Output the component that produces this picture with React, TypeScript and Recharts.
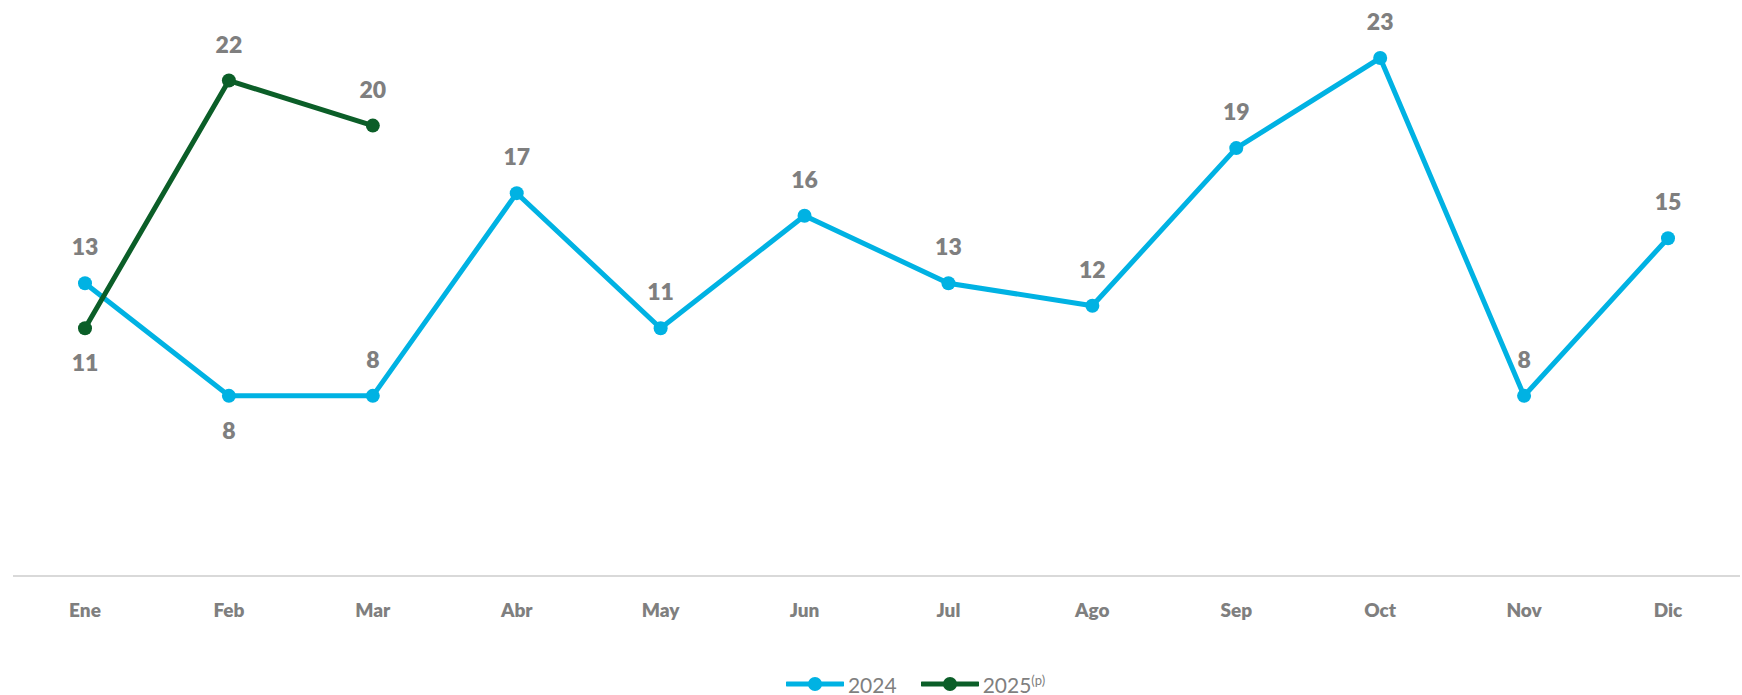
import { LineChart, Line, XAxis, YAxis, Legend, LabelList } from 'recharts';

const months = ['Ene', 'Feb', 'Mar', 'Abr', 'May', 'Jun', 'Jul', 'Ago', 'Sep', 'Oct', 'Nov', 'Dic'];
const values2024 = [13, 8, 8, 17, 11, 16, 13, 12, 19, 23, 8, 15];
const values2025: (number | null)[] = [11, 22, 20, null, null, null, null, null, null, null, null, null];
// which labels sit under the point instead of above it
const below2024 = [false, true, false, false, false, false, false, false, false, false, false, false];
const below2025 = [true, false, false];

const BLUE = '#00B2E3';
const GREEN = '#0B5E28';
const GRAY = '#7F7F7F';
const FONT = 'Lato, "Open Sans", sans-serif';

const data = months.map((m, i) => ({ month: m, y2024: values2024[i], y2025: values2025[i] }));

const makeLabel = (below: boolean[]) => (props: any) => {
  const { x, y, value, index } = props;
  if (value == null) return null;
  const dy = below[index] ? 43 : -28;
  return (
    <text x={x} y={y + dy} textAnchor="middle" fill={GRAY} fontFamily={FONT} fontWeight={800} fontSize={23}>
      {value}
    </text>
  );
};

function LegendIcon({ color }: { color: string }) {
  return (
    <svg width={58} height={16} style={{ marginRight: 4 }}>
      <line x1={1} y1={8} x2={57} y2={8} stroke={color} strokeWidth={5} strokeLinecap="round" />
      <circle cx={29} cy={8} r={7} fill={color} />
    </svg>
  );
}

function ChartLegend() {
  return (
    <div
      style={{
        display: 'flex',
        justifyContent: 'center',
        alignItems: 'center',
        paddingLeft: 78,
        height: 22,
        fontFamily: FONT,
        fontSize: 21,
        color: GRAY,
      }}
    >
      <div style={{ display: 'flex', alignItems: 'center', marginRight: 24 }}>
        <LegendIcon color={BLUE} />
        <span>2024</span>
      </div>
      <div style={{ display: 'flex', alignItems: 'center' }}>
        <LegendIcon color={GREEN} />
        <span>
          2025<sup style={{ fontSize: 13 }}>(p)</sup>
        </span>
      </div>
    </div>
  );
}

export default function App() {
  return (
    <div style={{ position: 'absolute', left: 0, top: 0, background: '#fff' }}>
      <LineChart width={1742} height={695} data={data} margin={{ top: 13, right: 2, left: 13, bottom: 0 }}>
        <XAxis
          dataKey="month"
          padding={{ left: 72, right: 72 }}
          axisLine={{ stroke: '#D9D9D9', strokeWidth: 2 }}
          tickLine={false}
          tickMargin={22}
          height={97}
          tick={{ fill: GRAY, fontFamily: FONT, fontWeight: 800, fontSize: 19 }}
        />
        <YAxis hide domain={[0, 25]} />
        <Legend verticalAlign="bottom" height={22} content={() => <ChartLegend />} />
        <Line
          dataKey="y2024"
          stroke={BLUE}
          strokeWidth={5}
          dot={{ r: 7, fill: BLUE, stroke: 'none' }}
          activeDot={false}
          isAnimationActive={false}
        >
          <LabelList dataKey="y2024" content={makeLabel(below2024)} />
        </Line>
        <Line
          dataKey="y2025"
          stroke={GREEN}
          strokeWidth={5}
          dot={{ r: 7, fill: GREEN, stroke: 'none' }}
          activeDot={false}
          isAnimationActive={false}
        >
          <LabelList dataKey="y2025" content={makeLabel(below2025)} />
        </Line>
      </LineChart>
    </div>
  );
}
